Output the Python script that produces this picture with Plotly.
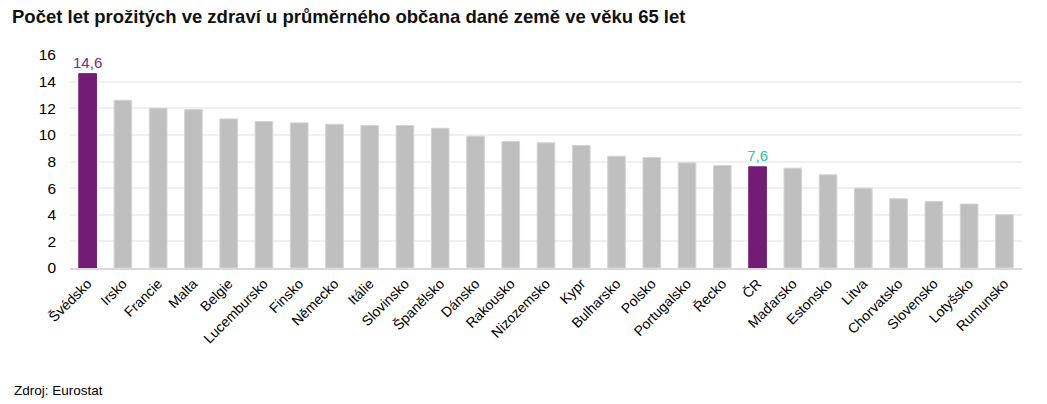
import plotly.graph_objects as go

countries = ["Švédsko", "Irsko", "Francie", "Malta", "Belgie", "Lucembursko", "Finsko", "Německo",
             "Itálie", "Slovinsko", "Španělsko", "Dánsko", "Rakousko", "Nizozemsko", "Kypr",
             "Bulharsko", "Polsko", "Portugalsko", "Řecko", "ČR", "Maďarsko", "Estonsko", "Litva",
             "Chorvatsko", "Slovensko", "Lotyšsko", "Rumunsko"]
values = [14.6, 12.6, 12.0, 11.9, 11.2, 11.0, 10.9, 10.8, 10.7, 10.7, 10.5, 9.9, 9.5, 9.4, 9.2,
          8.4, 8.3, 7.9, 7.7, 7.6, 7.5, 7.0, 6.0, 5.2, 5.0, 4.8, 4.0]
highlighted = {"Švédsko": "#7b2a8a", "ČR": "#2ec4a6"}
y_ticks = [0, 2, 4, 6, 8, 10, 12, 14, 16]

PURPLE = "#721c75"
GREY = "#bfbfbf"

bar_colors = [PURPLE if c in highlighted else GREY for c in countries]
line_colors = [PURPLE if c in highlighted else "#d4d4d4" for c in countries]
texts = [(f"{v:.1f}".replace(".", ",") if c in highlighted else "") for c, v in zip(countries, values)]
text_colors = [highlighted.get(c, "#000000") for c in countries]

fig = go.Figure(go.Bar(
    x=countries, y=values,
    marker=dict(color=bar_colors, line=dict(color=line_colors, width=1)),
    width=0.5,
    text=texts, textposition="outside", cliponaxis=False, constraintext="none",
    textfont=dict(color=text_colors, size=15, family="Liberation Sans, Arial, sans-serif"),
    hoverinfo="skip",
))

fig.update_layout(
    width=1047, height=404,
    margin=dict(l=70, r=25, t=55, b=136),
    paper_bgcolor="white", plot_bgcolor="white",
    font=dict(family="Liberation Sans, Arial, sans-serif", size=14, color="#000000"),
    showlegend=False,
    title=dict(text="<b>Počet let prožitých ve zdraví u průměrného občana dané země ve věku 65 let</b>",
               x=0.0115, xanchor="left", y=0.958, yanchor="middle",
               font=dict(size=18.5, color="#111111", family="Liberation Sans, Arial, sans-serif")),
    xaxis=dict(tickangle=-45, showgrid=False, showline=True, linecolor="#d9d9d9", linewidth=2,
               ticks="", tickfont=dict(size=14), automargin=False),
    yaxis=dict(range=[0, 16], tickvals=y_ticks, ticktext=[str(t) for t in y_ticks],
               showgrid=True, gridcolor="#f0f0f0", gridwidth=1.5, zeroline=False,
               ticks="", ticklabelstandoff=13, tickfont=dict(size=15.5), automargin=False),
    annotations=[dict(text="Zdroj: Eurostat", xref="paper", yref="paper", x=-0.061, y=-0.577,
                      xanchor="left", yanchor="middle", showarrow=False,
                      font=dict(size=13.5, color="#000000"))],
)

fig.write_html("out.html", config={"displayModeBar": False},
               post_script="document.body.style.margin='0';")
